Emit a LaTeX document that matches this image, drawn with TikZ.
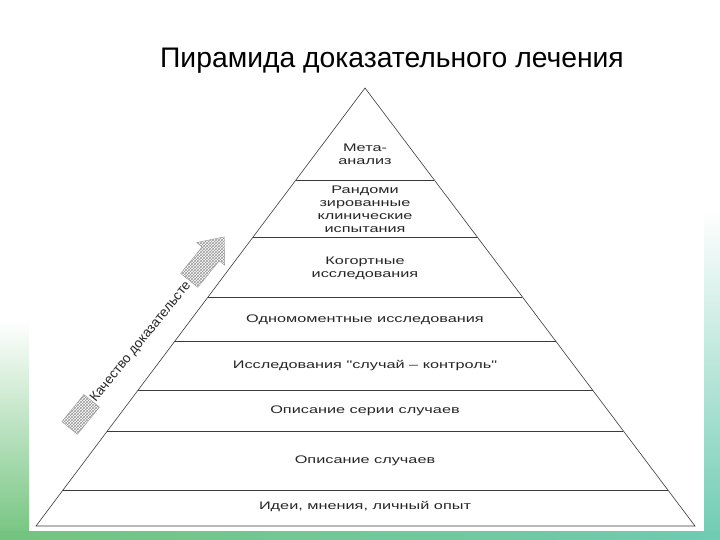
\documentclass[tikz,border=0pt]{standalone}
\usepackage{fontspec}
\setmainfont{Liberation Sans}
\newfontfamily\widefont[FakeStretch=1.48]{Liberation Sans}
\usetikzlibrary{calc,patterns}
\definecolor{leftgreen}{HTML}{74C47F}
\definecolor{rightteal}{HTML}{6FCBB2}
\definecolor{linegray}{HTML}{3A3A3A}
\begin{document}
\begin{tikzpicture}[x=1pt,y=-1pt,
  tier/.style={draw=linegray, line width=0.6pt},
  lvl/.style={font=\widefont\fontsize{11}{13}\selectfont, align=center, text=black!85, inner sep=0pt},
  hatch/.style={pattern=crosshatch, pattern color=black!40, draw=black!40, line width=0.4pt}]
\useasboundingbox (0,0) rectangle (720,540);
% background
\fill[white] (0,0) rectangle (720,540);
\shade[top color=white, bottom color=leftgreen] (0,320) rectangle (29,540);
\shade[top color=white, bottom color=rightteal] (704,210) rectangle (720,540);
\shade[left color=leftgreen, right color=rightteal, middle color=leftgreen!50!rightteal] (0,531) rectangle (720,540);
% title
\node[font=\fontsize{28.3}{32}\selectfont, anchor=base, text=black] (title) at (392,68) {Пирамида доказательного лечения};
% pyramid
\coordinate (apex) at (365,88);
\coordinate (bl) at (36,526);
\coordinate (br) at (695,526);
\draw[tier, line join=miter] (bl) -- (apex) -- (br) -- cycle;
\foreach \f [count=\i] in {0.2100,0.3402,0.4772,0.5776,0.6895,0.7831,0.9178}{
  \coordinate (L\i) at ($(apex)!\f!(bl)$);
  \coordinate (R\i) at ($(apex)!\f!(br)$);
  \draw[tier] (L\i) -- (R\i);
}
% level texts
\node[lvl] (meta) at (365,154) {Мета-\\анализ};
\node[lvl] (rct) at (365,209.5) {Рандоми\\зированные\\клинические\\испытания};
\node[lvl] (cohort) at (365,268) {Когортные\\исследования};
\node[lvl] (cross) at (365,320) {Одномоментные исследования};
\node[lvl] (casectl) at (365,366) {Исследования "случай – контроль"};
\node[lvl] (series) at (365,411) {Описание серии случаев};
\node[lvl] (cases) at (365,461) {Описание случаев};
\node[lvl] (ideas) at (365,507) {Идеи, мнения, личный опыт};
% quality arrow
\begin{scope}[shift={(81,414)}, rotate=51]
  \path[hatch] (-18,-10) -- (17,-10) -- (17,10) -- (-18,10) -- cycle;
  \path[hatch] (172,-11) -- (206,-11) -- (206,-18) -- (228,0) -- (206,18) -- (206,11) -- (172,11) -- cycle;
\end{scope}
\node[rotate=51, font=\fontsize{13.5}{15}\selectfont, text=black!85, inner sep=1pt] (quality) at (141,342) {Качество доказательсте};
\end{tikzpicture}
\end{document}
